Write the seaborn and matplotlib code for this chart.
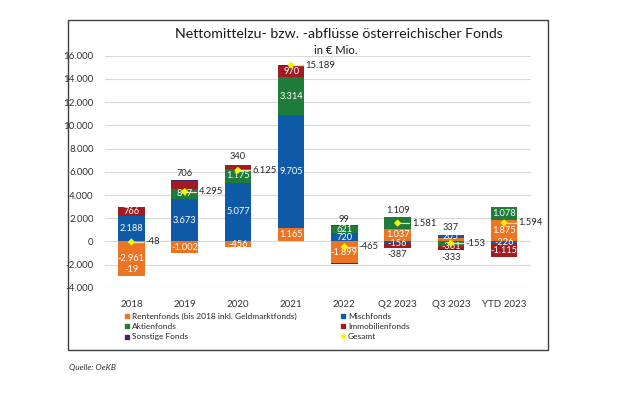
import matplotlib
matplotlib.use("Agg")
import matplotlib.pyplot as plt
import matplotlib.patches as mpatches
from matplotlib.lines import Line2D
import numpy as np
import pandas as pd
import seaborn as sns

# data (EUR Mio.)
categories = ["2018", "2019", "2020", "2021", "2022", "Q2 2023", "Q3 2023", "YTD 2023"]
rentenfonds = [-2961, -1002, -456, 1165, -1899, 1037, 337, 1875]
mischfonds = [2188, 3673, 5077, 9705, 720, -156, 205, -226]
aktienfonds = [-22, 847, 1175, 3314, 621, 1109, -361, 1078]
immobilienfonds = [766, 706, 340, 970, 99, -387, -333, -1115]
sonstige = [-19, 71, -11, 35, -6, -22, -1, -18]
gesamt = [-48, 4295, 6125, 15189, -465, 1581, -153, 1594]

series_names = ["Rentenfonds (bis 2018 inkl. Geldmarktfonds)", "Mischfonds",
                "Aktienfonds", "Immobilienfonds", "Sonstige Fonds"]
series_values = [rentenfonds, mischfonds, aktienfonds, immobilienfonds, sonstige]
colors = ["#EC7524", "#0E5AA7", "#1E7B3A", "#A01B22", "#4A2168"]

# label tweaks: (category index, series index) -> (y, colour); hidden ones are skipped
label_moves = {
    (0, 4): (-2400, "white"),
    (1, 3): (5850, "#262626"),
    (2, 3): (7350, "#262626"),
    (4, 3): (1870, "#262626"),
    (5, 0): (600, "white"),
    (5, 1): (-160, "white"),
    (5, 2): (2650, "#262626"),
    (5, 3): (-1090, "#262626"),
    (6, 0): (1160, "#262626"),
    (6, 2): (-430, "white"),
    (6, 3): (-1350, "#262626"),
}
hidden = {(0, 2)} | {(i, 4) for i in range(1, 8)}


def fmt(v):
    return f"{v:,}".replace(",", ".")


sns.set_theme(style="white")
plt.rcParams["font.family"] = ["Lato", "DejaVu Sans"]

fig = plt.figure(figsize=(6.2, 4.13), dpi=100)
ax = fig.add_axes([0.169, 0.303, 0.687, 0.562])

vals = np.array(series_values, dtype=float)
pos = np.where(vals > 0, vals, 0).cumsum(axis=0)
neg = np.where(vals < 0, vals, 0).cumsum(axis=0)

# stacked bars: draw cumulative heights back to front so each layer covers the one below
for cum in (pos, neg):
    for k in range(len(series_names) - 1, -1, -1):
        df = pd.DataFrame({"cat": categories, "val": cum[k]})
        sns.barplot(data=df, x="cat", y="val", order=categories, color=colors[k],
                    saturation=1, width=0.5, errorbar=None, ax=ax, linewidth=0)

# segment labels
for i in range(len(categories)):
    for k in range(len(series_names)):
        v = vals[k, i]
        if (i, k) in hidden or v == 0:
            continue
        top = pos[k, i] if v > 0 else neg[k, i]
        y = top - v / 2
        col = "white"
        if (i, k) in label_moves:
            y, col = label_moves[(i, k)]
        ax.text(i, y, fmt(int(v)), ha="center", va="center", fontsize=6.7, color=col)

# totals
xs = np.arange(len(categories))
for i, t in enumerate(gesamt):
    ax.plot([i + 0.02, i + 0.22], [t, t], color="#E6E6B0", lw=0.9, zorder=4)
    ax.text(i + 0.27, t, fmt(t), ha="left", va="center", fontsize=6.8, color="#262626")
sns.scatterplot(x=xs, y=gesamt, marker="D", s=14, color="#F5F500",
                edgecolor="none", ax=ax, zorder=5)

ax.set_xlim(-0.5, 7.5)
ax.set_ylim(-4000, 16000)
ax.set_yticks(range(-4000, 16001, 2000))
ax.set_yticklabels([fmt(v) for v in range(-4000, 16001, 2000)], fontsize=7, color="#333333")
ax.set_xticks(xs)
ax.set_xticklabels(categories, fontsize=7, color="#333333")
ax.tick_params(axis="both", length=0)
ax.tick_params(axis="y", pad=8)
ax.tick_params(axis="x", pad=9)
ax.set_xlabel("")
ax.set_ylabel("")
ax.grid(axis="y", color="#D9D9D9", lw=0.8)
ax.set_axisbelow(True)
for s in ax.spines.values():
    s.set_visible(False)

# title
fig.text(0.547, 0.918, "Nettomittelzu- bzw. -abflüsse österreichischer Fonds",
         ha="center", va="center", fontsize=10.2, color="#1a1a1a")
fig.text(0.542, 0.877, "in € Mio.", ha="center", va="center", fontsize=8.1, color="#1a1a1a")

# legend
handles = [
    Line2D([], [], marker="s", ls="", color=colors[0], markersize=3.5),
    Line2D([], [], marker="s", ls="", color=colors[2], markersize=3.5),
    Line2D([], [], marker="s", ls="", color=colors[4], markersize=3.5),
    Line2D([], [], marker="s", ls="", color=colors[1], markersize=3.5),
    Line2D([], [], marker="s", ls="", color=colors[3], markersize=3.5),
    Line2D([], [], marker="D", ls="", color="#F5F500", markersize=2.2),
]
labels = [series_names[0], series_names[2], series_names[4],
          series_names[1], series_names[3], "Gesamt"]
fig.legend(handles, labels, ncol=2, loc="upper left", bbox_to_anchor=(0.2, 0.243),
           frameon=False, fontsize=6, handlelength=0.6, handletextpad=0.3,
           labelspacing=0.4, columnspacing=5.3, borderpad=0, borderaxespad=0)

# outer frame
fig.add_artist(mpatches.Rectangle((0.11, 0.153), 0.774, 0.799, transform=fig.transFigure,
                                  fill=False, edgecolor="#404040", lw=1.0))

fig.text(0.111, 0.109, "Quelle: OeKB", fontsize=6, style="italic", color="#333333",
         ha="left", va="center")

fig.savefig("out.png", dpi=100)
